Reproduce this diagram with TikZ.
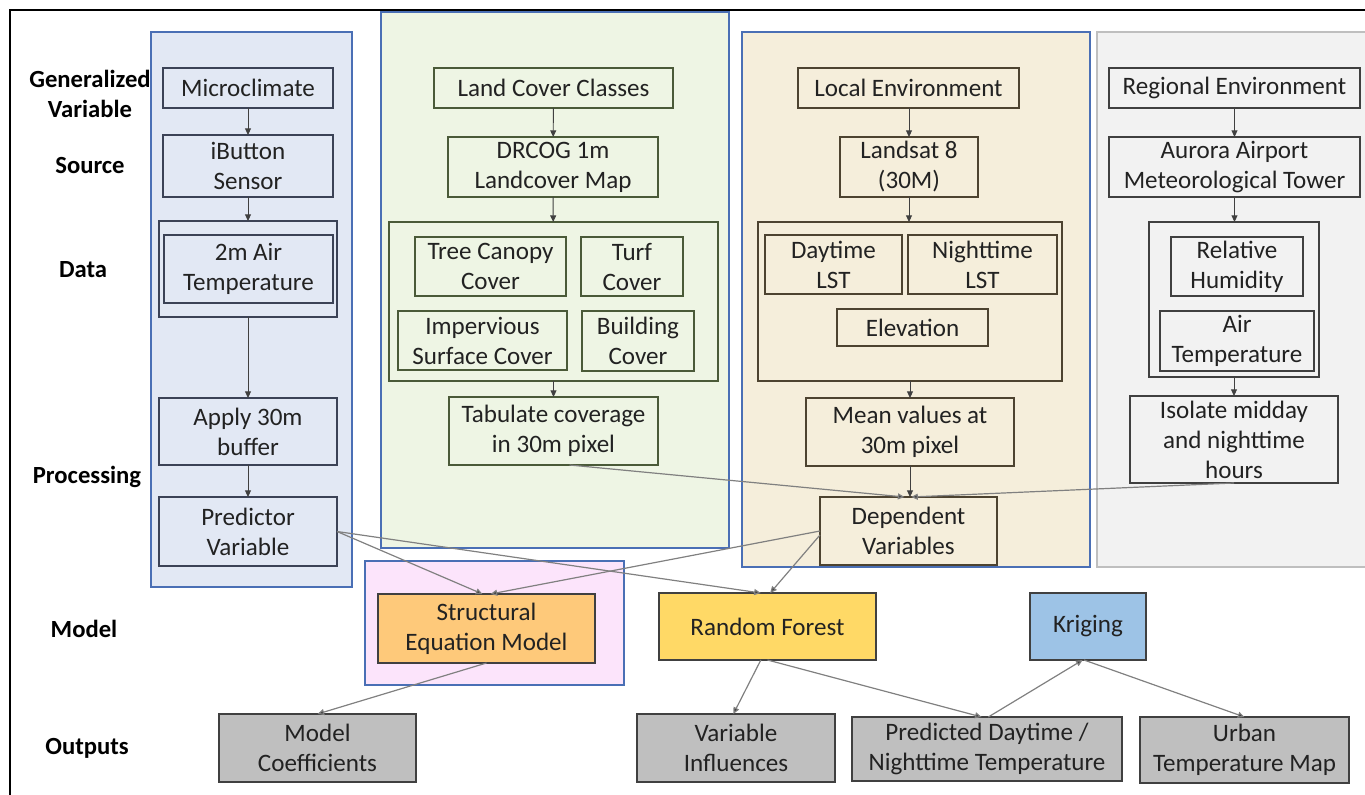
\documentclass[tikz,border=0pt]{standalone}
\usepackage{fontspec}
\setmainfont{Carlito}
\usetikzlibrary{arrows.meta}
\definecolor{txt}{HTML}{222222}
\definecolor{pblue}{HTML}{4A6FB5}
\definecolor{fA}{HTML}{E2E8F4}
\definecolor{fB}{HTML}{EEF5E4}
\definecolor{fC}{HTML}{F5EEDB}
\definecolor{fD}{HTML}{F2F2F2}
\definecolor{fE}{HTML}{FCE4FB}
\definecolor{bA}{HTML}{3B4256}
\definecolor{bB}{HTML}{4A5A38}
\definecolor{bC}{HTML}{4D4330}
\definecolor{bD}{HTML}{404040}
\definecolor{sem}{HTML}{FEC97A}
\definecolor{rf}{HTML}{FFD966}
\definecolor{kr}{HTML}{9DC3E6}
\definecolor{outc}{HTML}{BFBFBF}
\definecolor{arrd}{HTML}{404040}
\definecolor{arrl}{HTML}{808080}
\newcommand\bx[7][]{\node[base,#1,minimum width={(#5-#3)*0.75pt},minimum height={(#6-#4)*0.75pt}] (#2) at ({(#3+#5)/2},{(#4+#6)/2}) {#7};}
\tikzset{
  base/.style={draw, inner sep=0pt, outer sep=0pt, align=center,
    font=\fontsize{18.8}{22.5}\selectfont, text=txt, line width=0.9pt},
  panelA/.style={draw=pblue, fill=fA, line width=1.3pt},
  panelB/.style={draw=pblue, fill=fB, line width=1.3pt},
  panelC/.style={draw=pblue, fill=fC, line width=1.3pt},
  panelD/.style={draw=outc, fill=fD, line width=1.6pt},
  panelE/.style={draw=pblue, fill=fE, line width=1.3pt},
  nA/.style={draw=bA},
  nB/.style={draw=bB},
  nC/.style={draw=bC},
  nD/.style={draw=bD},
  model/.style={draw=bD},
  outbox/.style={draw=bD, fill=outc},
  lab/.style={align=center, font=\bfseries\fontsize{18.5}{22.5}\selectfont, text=black},
  arr/.style={draw=arrd, line width=0.7pt, -{Triangle[length=5pt,width=4.5pt]}},
  arrg/.style={draw=arrl, line width=0.9pt, -{Triangle[length=5pt,width=4.5pt,fill=arrd]}},
}
\begin{document}
\begin{tikzpicture}[x=0.75pt,y=-0.75pt]
\useasboundingbox (0,0) rectangle (1365,795);
\draw[line width=1.6pt, black] (10,795) -- (10,10) -- (1365,10);
% panels
\bx[panelA]{pA}{151}{32}{352}{587}{}
\bx[panelB]{pB}{381}{12}{729}{548}{}
\bx[panelC]{pC}{742}{32}{1090}{567}{}
\bx[panelD]{pD}{1097}{32}{1372}{567}{}
\bx[panelE]{pE}{365}{561}{624}{685}{}
% left labels
\node[lab] (lgv) at (90,94) {Generalized\\Variable};
\node[lab] (lsrc) at (90,166) {Source};
\node[lab] (ldata) at (83,270) {Data};
\node[lab] (lproc) at (87,477) {Processing};
\node[lab] (lmod) at (84,629) {Model};
\node[lab] (lout) at (87,748) {Outputs};
% panel A
\bx[nA]{micro}{163}{68}{333}{108}{Microclimate}
\bx[nA]{ibut}{163}{135}{333}{197}{iButton\\Sensor}
\bx[nA]{dA}{159}{221}{337}{317}{}
\bx[nA]{air2}{164}{235}{333}{303}{2m Air\\Temperature}
\bx[nA]{buf}{159}{398}{337}{465}{Apply 30m\\buffer}
\bx[nA]{pred}{159}{497}{337}{566}{Predictor\\Variable}
% panel B
\bx[nB]{lcc}{434}{68}{673}{108}{Land Cover Classes}
\bx[nB]{drcog}{448}{137}{658}{197}{DRCOG 1m\\Landcover Map}
\bx[nB]{dB}{389}{222}{718}{381}{}
\bx[nB]{tree}{415}{237}{566}{296}{Tree Canopy\\Cover}
\bx[nB]{turf}{581}{237}{683}{296}{Turf\\Cover}
\bx[nB]{imp}{398}{311}{567}{370}{Impervious\\Surface Cover}
\bx[nB]{bld}{582}{311}{694}{371}{Building\\Cover}
\bx[nB]{tab}{449}{397}{658}{465}{Tabulate coverage\\in 30m pixel}
% panel C
\bx[nC]{loc}{798}{68}{1019}{108}{Local Environment}
\bx[nC]{lsat}{840}{137}{978}{197}{Landsat 8\\(30M)}
\bx[nC]{dC}{758}{222}{1062}{381}{}
\bx[nC]{day}{765}{235}{902}{294}{Daytime\\LST}
\bx[nC]{night}{908}{235}{1057}{294}{Nighttime\\LST}
\bx[nC]{elev}{837}{309}{988}{346}{Elevation}
\bx[nC]{mean}{806}{398}{1014}{466}{Mean values at\\30m pixel}
\bx[nC]{dep}{820}{497}{997}{565}{Dependent\\Variables}
% panel D
\bx[nD]{reg}{1109}{68}{1360}{108}{Regional Environment}
\bx[nD]{aur}{1109}{137}{1360}{197}{Aurora Airport\\Meteorological Tower}
\bx[nD]{dD}{1149}{222}{1319}{377}{}
\bx[nD]{rh}{1171}{237}{1303}{296}{Relative\\Humidity}
\bx[nD]{at}{1160}{311}{1314}{371}{Air\\Temperature}
\bx[nD]{iso}{1130}{396}{1338}{483}{Isolate midday\\and nighttime\\hours}
% models
\bx[model,fill=sem]{semn}{378}{594}{595}{663}{Structural\\Equation Model}
\bx[model,fill=rf]{rfn}{659}{593}{876}{660}{Random Forest}
\bx[model,fill=kr]{krn}{1030}{593}{1146}{660}{Kriging}
% outputs
\bx[outbox]{mc}{219}{714}{416}{782}{Model\\Coefficients}
\bx[outbox]{vi}{637}{714}{835}{782}{Variable\\Influences}
\bx[outbox]{pdt}{852}{717}{1122}{781}{Predicted Daytime /\\Nighttime Temperature}
\bx[outbox]{urb}{1140}{717}{1349}{783}{Urban\\Temperature Map}
% vertical arrows
\draw[arr] (micro) -- (ibut);
\draw[arr] (ibut) -- (dA);
\draw[arr] (dA) -- (buf);
\draw[arr] (buf) -- (pred);
\draw[arr] (lcc) -- (drcog);
\draw[arr] (drcog) -- (dB);
\draw[arr] (dB.south -| tab.north) -- (tab);
\draw[arr] (loc.south -| lsat.north) -- (lsat);
\draw[arr] (lsat.south) -- (lsat.south |- dC.north);
\draw[arr] (dC.south -| mean.north) -- (mean);
\draw[arr] (mean.south) -- (mean.south |- dep.north);
\draw[arr] (reg) -- (aur);
\draw[arr] (aur.south) -- (aur.south |- dD.north);
\draw[arr] (dD.south -| iso.north) -- (iso);
% long connectors
\draw[arrg] ([xshift=12pt]tab.south) -- ([xshift=-3pt]dep.north);
\draw[arrg] (iso.south) -- ([xshift=2pt]dep.north);
\draw[arrg] (pred.east) -- ([xshift=-3pt]semn.north);
\draw[arrg] (pred.east) -- ([xshift=-5pt]rfn.north);
\draw[arrg] (dep.west) -- ([xshift=3pt]semn.north);
\draw[arrg] ([yshift=-3pt]dep.west) -- ([xshift=2pt]rfn.north);
\draw[arrg] (semn.south) -- (mc.north);
\draw[arrg] ([xshift=-5pt]rfn.south) -- ([xshift=-2pt]vi.north);
\draw[arrg] (rfn.south) -- ([xshift=-4pt]pdt.north);
\draw[arrg] ([xshift=1pt]pdt.north) -- ([xshift=-4pt]krn.south);
\draw[arrg] ([xshift=-3pt]krn.south) -- (urb.north);
\end{tikzpicture}
\end{document}
